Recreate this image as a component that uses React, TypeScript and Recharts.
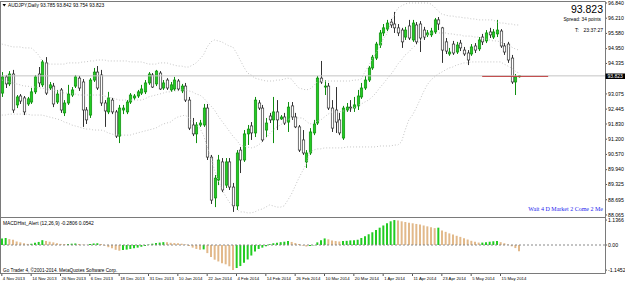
import React from "react";
import { ComposedChart, Bar, Line, XAxis, YAxis, ReferenceLine, Cell } from "recharts";

// AUDJPY daily, 4 Nov 2013 .. 20 May 2014
const openP = [
  93.11, 93.78, 93.49, 93.9, 92.62, 92.99, 92.91, 92.66, 92.74, 93.16,
  93.9, 93.45, 94.36, 93.32, 93.4, 92.74, 93.24, 92.29, 92.7, 93.03,
  93.4, 93.73, 93.57, 92.41, 92.2, 93.65, 93.98, 93.86, 92.7, 92.33,
  92.82, 92.33, 91.33, 92.41, 92.33, 92.74, 92.91, 92.99, 93.11, 93.16,
  93.53, 93.86, 93.49, 93.94, 93.32, 93.65, 93.24, 93.28, 93.61, 93.2,
  93.4, 92.82, 91.79, 91.42, 91.79, 91.79, 92.49, 90.46, 88.77, 89.51,
  90.26, 89.3, 90.26, 89.22, 88.44, 90.75, 90.34, 91.42, 91.75, 91.46,
  92.7, 92.49, 91.58, 92.16, 92.0, 92.33, 92.04, 92.12, 91.91, 92.58,
  92.12, 91.71, 91.17, 90.26, 90.63, 91.46, 91.87, 93.73, 93.36, 93.4,
  92.49, 92.41, 92.0, 91.25, 92.41, 92.53, 92.49, 92.58, 92.95, 93.32,
  93.65, 94.15, 94.56, 95.1, 95.6, 95.76, 96.05, 95.97, 95.81, 95.72,
  95.43, 95.89, 95.31, 95.93, 95.97, 95.72, 95.52, 95.52, 95.64, 96.14,
  95.81, 95.23, 94.73, 95.14, 94.81, 95.18, 94.89, 94.77, 94.73, 95.06,
  94.94, 95.43, 95.27, 95.64, 95.43, 95.56, 95.68, 95.06, 95.14, 94.56,
  93.57, 93.785,
];
const highP = [
  93.98, 93.86, 94.02, 94.07, 93.03, 93.07, 92.99, 92.95, 93.32, 93.86,
  94.19, 94.48, 94.6, 93.57, 93.53, 93.24, 93.32, 92.82, 93.45, 93.36,
  93.86, 93.82, 93.69, 92.53, 93.73, 94.15, 94.23, 94.07, 92.82, 93.16,
  92.91, 92.41, 92.62, 92.62, 92.82, 93.11, 93.07, 93.24, 93.45, 93.65,
  93.98, 93.94, 94.07, 94.02, 93.65, 93.73, 93.57, 93.78, 93.69, 93.49,
  93.53, 92.95, 92.08, 91.91, 92.0, 92.66, 92.66, 90.55, 89.72, 90.55,
  90.42, 90.42, 90.42, 89.39, 90.75, 90.88, 91.58, 91.79, 91.91, 92.95,
  92.82, 92.62, 92.08, 92.29, 92.95, 92.82, 92.2, 92.29, 92.74, 92.74,
  92.29, 91.79, 91.58, 90.75, 91.66, 92.0, 93.82, 94.44, 93.65, 93.53,
  92.82, 93.36, 92.29, 92.58, 92.7, 92.82, 92.95, 93.24, 93.53, 93.82,
  94.23, 94.69, 95.23, 95.72, 95.97, 96.14, 96.18, 96.47, 95.97, 95.81,
  95.85, 96.14, 96.14, 96.05, 96.09, 95.85, 95.72, 95.81, 96.22, 96.26,
  95.85, 95.39, 94.98, 95.27, 95.23, 95.31, 95.02, 94.89, 95.14, 95.18,
  95.43, 95.56, 95.72, 95.81, 95.76, 96.14, 95.76, 95.18, 95.23, 94.69,
  93.9, 93.842,
];
const lowP = [
  92.95, 93.32, 93.4, 92.29, 92.49, 92.66, 92.2, 92.58, 92.66, 93.07,
  93.36, 93.36, 93.03, 93.24, 92.53, 92.66, 92.29, 92.16, 92.62, 92.95,
  93.32, 93.2, 91.71, 91.83, 92.08, 93.57, 93.24, 92.58, 91.71, 92.24,
  92.24, 91.25, 91.04, 92.24, 92.24, 92.66, 92.82, 92.91, 93.03, 93.07,
  93.45, 93.32, 93.4, 93.24, 93.24, 93.24, 93.16, 93.2, 93.2, 93.11,
  92.74, 91.58, 91.33, 91.04, 91.71, 91.71, 90.34, 88.52, 88.39, 89.3,
  89.01, 89.18, 89.1, 88.19, 88.27, 89.8, 90.26, 90.96, 91.17, 91.29,
  92.41, 91.09, 91.29, 91.87, 91.04, 91.58, 92.0, 91.79, 91.5, 92.0,
  91.66, 90.67, 90.55, 90.01, 90.55, 91.37, 91.79, 93.49, 93.03, 92.41,
  91.5, 91.46, 91.37, 91.17, 92.33, 92.33, 92.33, 92.41, 92.87, 93.24,
  93.57, 94.07, 94.48, 94.98, 95.47, 95.68, 95.81, 95.6, 95.47, 94.98,
  95.31, 95.31, 95.23, 95.14, 94.81, 95.31, 95.43, 95.43, 95.56, 95.72,
  94.36, 94.73, 94.65, 94.69, 94.73, 94.85, 94.65, 94.27, 94.65, 94.77,
  94.85, 95.1, 95.18, 95.39, 95.35, 95.43, 94.98, 94.69, 94.36, 93.49,
  93.03, 93.754,
];
const closeP = [
  93.78, 93.49, 93.9, 92.41, 92.95, 92.78, 92.33, 92.87, 93.16, 93.78,
  93.53, 94.4, 93.11, 93.45, 92.66, 93.07, 92.41, 92.7, 93.07, 93.24,
  93.78, 93.32, 92.41, 92.0, 93.65, 93.98, 93.32, 92.7, 92.37, 92.91,
  92.33, 91.33, 92.49, 92.49, 92.74, 93.03, 92.99, 93.16, 93.28, 93.53,
  93.9, 93.36, 94.02, 93.28, 93.53, 93.32, 93.45, 93.65, 93.28, 93.4,
  92.82, 91.66, 91.42, 91.79, 91.87, 92.49, 90.46, 88.68, 89.59, 90.34,
  89.1, 90.26, 89.22, 88.44, 90.63, 90.34, 91.42, 91.62, 91.46, 92.82,
  92.49, 91.17, 91.87, 92.0, 92.33, 92.0, 92.12, 91.87, 92.53, 92.12,
  91.71, 90.75, 90.63, 90.63, 91.5, 91.83, 93.73, 93.57, 93.4, 92.49,
  91.66, 91.91, 91.46, 92.49, 92.53, 92.49, 92.62, 92.99, 93.32, 93.65,
  94.15, 94.6, 95.14, 95.6, 95.81, 96.01, 95.93, 95.81, 95.6, 95.23,
  95.72, 95.39, 96.01, 95.23, 95.39, 95.43, 95.6, 95.68, 96.14, 95.97,
  94.89, 94.85, 94.81, 94.77, 95.1, 94.98, 94.73, 94.48, 95.02, 94.89,
  95.31, 95.23, 95.6, 95.52, 95.64, 95.72, 95.06, 94.81, 94.48, 93.57,
  93.78, 93.823,
];

// Bollinger bands (20)
const upperBand = [
  95.14, 95.1, 95.06, 95.02, 95.02, 95.02, 94.98, 94.98, 94.98, 94.85,
  94.69, 94.44, 94.36, 94.31, 94.31, 94.31, 94.31, 94.31, 94.36, 94.36,
  94.36, 94.36, 94.4, 94.4, 94.44, 94.44, 94.48, 94.48, 94.48, 94.44,
  94.44, 94.44, 94.44, 94.44, 94.44, 94.4, 94.4, 94.4, 94.4, 94.36,
  94.31, 94.31, 94.31, 94.36, 94.36, 94.36, 94.31, 94.27, 94.23, 94.23,
  94.19, 94.19, 94.27, 94.36, 94.52, 94.69, 95.02, 95.23, 95.31, 95.27,
  95.23, 95.14, 95.06, 95.02, 94.77, 94.48, 94.19, 93.94, 93.86, 93.73,
  93.69, 93.65, 93.61, 93.61, 93.61, 93.65, 93.65, 93.69, 93.73, 93.69,
  93.49, 93.32, 93.28, 93.24, 93.28, 93.4, 93.57, 93.57, 93.61, 93.61,
  93.61, 93.61, 93.61, 93.61, 93.61, 93.61, 93.65, 93.65, 93.69, 93.98,
  94.23, 94.52, 94.77, 95.02, 95.35, 95.56, 95.97, 96.34, 96.63, 96.72,
  96.8, 96.84, 96.84, 96.84, 96.84, 96.84, 96.84, 96.8, 96.67, 96.51,
  96.38, 96.34, 96.3, 96.3, 96.26, 96.26, 96.22, 96.22, 96.18, 96.18,
  96.14, 96.14, 96.14, 96.14, 96.14, 96.05, 96.01, 96.01, 95.97, 95.97,
  95.93, 95.93,
];
const midBand = [
  93.65, 93.61, 93.57, 93.53, 93.49, 93.45, 93.4, 93.4, 93.36, 93.36,
  93.32, 93.32, 93.28, 93.24, 93.24, 93.2, 93.16, 93.11, 93.11, 93.07,
  93.07, 93.03, 93.03, 93.03, 93.03, 93.03, 93.03, 93.03, 92.99, 92.95,
  92.91, 92.87, 92.82, 92.82, 92.82, 92.82, 92.82, 92.82, 92.82, 92.87,
  92.95, 92.99, 93.03, 93.07, 93.11, 93.16, 93.16, 93.2, 93.2, 93.24,
  93.24, 93.2, 93.16, 93.07, 93.03, 92.91, 92.74, 92.58, 92.41, 92.16,
  91.95, 91.75, 91.54, 91.33, 91.17, 90.96, 90.92, 90.88, 90.84, 90.88,
  90.96, 91.09, 91.25, 91.42, 91.58, 91.71, 91.79, 91.91, 92.0, 92.08,
  92.08, 92.08, 92.08, 91.95, 91.83, 91.87, 91.95, 92.0, 92.12, 92.24,
  92.33, 92.33, 92.33, 92.37, 92.37, 92.41, 92.49, 92.58, 92.66, 92.74,
  92.82, 92.95, 93.11, 93.32, 93.49, 93.69, 93.86, 94.07, 94.31, 94.48,
  94.69, 94.81, 94.98, 95.1, 95.27, 95.39, 95.52, 95.6, 95.6, 95.6,
  95.6, 95.6, 95.56, 95.56, 95.52, 95.52, 95.47, 95.47, 95.47, 95.43,
  95.43, 95.39, 95.35, 95.31, 95.27, 95.27, 95.23, 95.14, 95.06, 95.02,
  94.94, 94.89,
];
const lowerBand = [
  92.2, 92.2, 92.24, 92.24, 92.24, 92.24, 92.24, 92.24, 92.2, 92.2,
  92.2, 92.2, 92.16, 92.12, 92.08, 92.04, 92.0, 91.91, 91.87, 91.79,
  91.75, 91.71, 91.66, 91.62, 91.62, 91.58, 91.58, 91.58, 91.54, 91.46,
  91.42, 91.37, 91.37, 91.37, 91.37, 91.37, 91.42, 91.46, 91.5, 91.54,
  91.58, 91.62, 91.66, 91.75, 91.83, 91.87, 91.91, 92.04, 92.12, 92.16,
  92.2, 92.08, 91.95, 91.79, 91.66, 91.37, 90.88, 90.46, 89.93, 89.51,
  89.14, 88.85, 88.6, 88.44, 88.31, 88.19, 88.19, 88.15, 88.15, 88.19,
  88.27, 88.31, 88.39, 88.48, 88.44, 88.39, 88.39, 88.44, 88.68, 88.93,
  89.26, 89.59, 89.88, 90.17, 90.67, 90.75, 90.8, 90.8, 90.84, 90.84,
  90.84, 90.84, 90.84, 90.84, 90.88, 90.88, 90.88, 90.88, 90.88, 90.88,
  90.88, 90.88, 90.88, 90.92, 90.92, 90.92, 90.92, 90.96, 90.96, 91.09,
  91.58, 92.0, 92.2, 92.49, 92.82, 93.16, 93.45, 93.65, 93.78, 93.9,
  93.98, 94.07, 94.15, 94.19, 94.27, 94.31, 94.36, 94.36, 94.4, 94.4,
  94.4, 94.4, 94.4, 94.4, 94.4, 94.4, 94.4, 94.31, 94.23, 94.15,
  94.02, 93.94,
];

// MACDHist_Alert (12,26,9)
const macdHist = [
  0.3, 0.32, 0.27, 0.24, 0.16, 0.12, 0.08, 0.05, 0.06, 0.1,
  0.14, 0.22, 0.18, 0.15, 0.12, 0.08, 0.05, 0.04, 0.05, 0.06,
  0.07, 0.05, 0.02, 0.01, 0.04, 0.07, 0.08, 0.04, -0.03, -0.1,
  -0.15, -0.22, -0.26, -0.23, -0.21, -0.18, -0.15, -0.12, -0.08, -0.04,
  0.02, 0.06, 0.09, 0.11, 0.13, 0.12, 0.1, 0.09, 0.08, 0.06,
  0.03, -0.05, -0.12, -0.18, -0.22, -0.2, -0.37, -0.55, -0.67, -0.75,
  -0.83, -0.88, -0.97, -1.1452, -1.05, -0.96, -0.81, -0.66, -0.48, -0.3,
  -0.18, -0.12, -0.06, 0.04, 0.08, 0.1, 0.13, 0.15, 0.18, 0.14,
  0.09, 0.04, -0.03, -0.07, -0.05, -0.02, 0.12, 0.22, 0.3, 0.26,
  0.21, 0.18, 0.16, 0.18, 0.19, 0.21, 0.22, 0.24, 0.32, 0.4,
  0.49, 0.58, 0.68, 0.79, 0.89, 0.99, 1.08, 1.1366, 1.12, 1.08,
  1.05, 1.02, 0.99, 0.96, 0.93, 0.89, 0.85, 0.81, 0.77, 0.79,
  0.66, 0.6, 0.53, 0.48, 0.42, 0.37, 0.31, 0.25, 0.19, 0.15,
  0.11, 0.11, 0.13, 0.15, 0.17, 0.18, 0.13, 0.08, 0.02, -0.06,
  -0.14, -0.28,
];

const dateLabels = [
  "4 Nov 2013", "14 Nov 2013", "26 Nov 2013", "6 Dec 2013", "18 Dec 2013",
  "31 Dec 2013", "10 Jan 2014", "22 Jan 2014", "4 Feb 2014", "14 Feb 2014",
  "26 Feb 2014", "10 Mar 2014", "20 Mar 2014", "1 Apr 2014", "11 Apr 2014",
  "23 Apr 2014", "5 May 2014", "15 May 2014",
];
const dateTickIdx = dateLabels.map((_, k) => k * 8);

// 93.705 sits under the current-price box, so it is left out
const priceTicks = [
  96.84, 96.21, 95.58, 94.95, 94.335, 93.075, 92.445, 91.83, 91.2,
  90.57, 89.94, 89.325, 88.695, 88.065,
];
const macdTicks = [1.1366, 0, -1.1452];
const macdTickText: Record<string, string> = { "1.1366": "1.1366", "0": "0.00", "-1.1452": "-1.1452" };

const lastPrice = 93.823;
const SLOTS = 165; // bars + right shift
const N = openP.length;

const GREEN = "#22cc22";
const TAN = "#e2b98a";

const rows = Array.from({ length: SLOTS }, (_, i) => {
  if (i >= N) return { i };
  return {
    i,
    range: [lowP[i], highP[i]],
    open: openP[i],
    high: highP[i],
    low: lowP[i],
    close: closeP[i],
    upper: upperBand[i],
    mid: midBand[i],
    lower: lowerBand[i],
    macd: macdHist[i],
    col: i === 0 || macdHist[i] >= macdHist[i - 1] ? GREEN : TAN,
  };
});

const FONT = "'Liberation Sans', Arial, sans-serif";

const Candle = (props: any) => {
  const { x, y, width, height, payload } = props;
  if (!payload || payload.open == null || !isFinite(y)) return null;
  const { open, close, high, low } = payload;
  const cx = Math.round(x + width / 2) + 0.5;
  const k = height / (high - low || 1);
  const yO = y + (high - open) * k;
  const yC = y + (high - close) * k;
  const up = close >= open;
  const top = Math.min(yO, yC);
  const h = Math.max(Math.abs(yC - yO), 0.8);
  const edge = up ? "#0e8e0e" : "#333";
  return (
    <g>
      <line x1={cx} x2={cx} y1={y} y2={y + height} stroke={edge} strokeWidth={1} />
      <rect x={cx - 1.2} y={top} width={2.4} height={h} fill={up ? GREEN : "#fff"} stroke={edge} strokeWidth={0.7} />
    </g>
  );
};

const PriceTick = (props: any) => {
  const { x, y, payload } = props;
  return (
    <g>
      <line x1={x} x2={x + 2} y1={y} y2={y} stroke="#555" />
      <text x={x + 3} y={y + 1.8} fontSize={5.2} fontFamily={FONT} fill="#000">
        {payload.value.toFixed(3)}
      </text>
    </g>
  );
};

const MacdTick = (props: any) => {
  const { x, y, payload } = props;
  return (
    <g>
      <line x1={x} x2={x + 2} y1={y} y2={y} stroke="#555" />
      <text x={x + 3} y={y + 1.8} fontSize={5.2} fontFamily={FONT} fill="#000">
        {macdTickText[String(payload.value)]}
      </text>
    </g>
  );
};

const DateTick = (props: any) => {
  const { x, y, payload } = props;
  const label = dateLabels[dateTickIdx.indexOf(payload.value)];
  return (
    <g>
      <line x1={x} x2={x} y1={y} y2={y + 2} stroke="#555" />
      <text x={x + 1} y={y + 6.3} fontSize={4.3} fontFamily={FONT} fill="#000">
        {label}
      </text>
    </g>
  );
};

export default function App() {
  return (
    <div
      style={{
        position: "relative",
        width: 625,
        height: 282,
        background: "#fff",
        overflow: "hidden",
        fontFamily: FONT,
      }}
    >
      <style>{"body{margin:0}"}</style>
      <div style={{ position: "absolute", left: 0, top: 0 }}>
        <ComposedChart width={625} height={218} data={rows} margin={{ top: 2, right: 0, bottom: 1, left: 0 }}>
          <XAxis dataKey="i" hide />
          <YAxis
            orientation="right"
            width={20}
            domain={[87.98, 96.881]}
            allowDataOverflow
            ticks={priceTicks}
            interval={0}
            axisLine={false}
            tickLine={false}
            tickSize={0}
            tickMargin={0}
            tick={<PriceTick />}
          />
          <ReferenceLine y={lastPrice} stroke="#c4c4c4" />
          <Line dataKey="upper" stroke="#c4c4c4" strokeDasharray="1 2" dot={false} activeDot={false} isAnimationActive={false} />
          <Line dataKey="mid" stroke="#c4c4c4" strokeDasharray="1 2" dot={false} activeDot={false} isAnimationActive={false} />
          <Line dataKey="lower" stroke="#c4c4c4" strokeDasharray="1 2" dot={false} activeDot={false} isAnimationActive={false} />
          <Bar dataKey="range" shape={Candle} isAnimationActive={false} />
          <ReferenceLine
            segment={[
              { x: 131, y: 93.8 },
              { x: 149, y: 93.8 },
            ]}
            stroke="#c04040"
          />
        </ComposedChart>
      </div>
      <div style={{ position: "absolute", left: 0, top: 217 }}>
        <ComposedChart width={625} height={65} data={rows} margin={{ top: 1, right: 0, bottom: 0, left: 0 }}>
          <XAxis
            dataKey="i"
            height={8}
            ticks={dateTickIdx}
            interval={0}
            axisLine={false}
            tickLine={false}
            tickSize={0}
            tickMargin={0}
            tick={<DateTick />}
          />
          <YAxis
            orientation="right"
            width={20}
            domain={[-1.322, 1.231]}
            allowDataOverflow
            ticks={macdTicks}
            interval={0}
            axisLine={false}
            tickLine={false}
            tickSize={0}
            tickMargin={0}
            tick={<MacdTick />}
          />
          <ReferenceLine y={0} stroke="#888" strokeDasharray="2 2" />
          <Bar dataKey="macd" barSize={2} isAnimationActive={false}>
            {rows.map((r: any, k) => (
              <Cell key={k} fill={r.col || "none"} />
            ))}
          </Bar>
        </ComposedChart>
      </div>
      <svg width={625} height={282} style={{ position: "absolute", left: 0, top: 0, pointerEvents: "none" }}>
        <g stroke="#7a7a7a" strokeWidth={1} fill="none">
          <line x1={0} y1={1.5} x2={605.5} y2={1.5} />
          <line x1={0.5} y1={1.5} x2={0.5} y2={273.5} />
          <line x1={605.5} y1={1.5} x2={605.5} y2={273.5} />
          <line x1={0} y1={217.5} x2={605.5} y2={217.5} />
          <line x1={0} y1={273.5} x2={605.5} y2={273.5} />
        </g>
        <polygon points="2.5,4 6,4 4.25,6.5" fill="#000" />
        <text x={8} y={7} fontSize={4.9} fontFamily={FONT} fill="#000">
          AUDJPY,Daily  93.785 93.842 93.754 93.823
        </text>
        <text x={603} y={12.5} fontSize={10.5} fontFamily={FONT} fill="#000" textAnchor="end">
          93.823
        </text>
        <text x={601} y={20.5} fontSize={4.8} fontFamily={FONT} fill="#000" textAnchor="end">
          Spread: 34 points
        </text>
        <text x={575} y={32} fontSize={5} fontFamily={FONT} fill="#000">
          T:
        </text>
        <text x={603} y={32} fontSize={5} fontFamily={FONT} fill="#000" textAnchor="end">
          23:37:27
        </text>
        <rect x={605.5} y={73.5} width={19.5} height={5.5} fill="#000" />
        <text x={607.5} y={77.9} fontSize={5} fontFamily={FONT} fill="#fff">
          93.823
        </text>
        <text x={603} y={210.5} fontSize={6} fontFamily="'Liberation Serif', 'Times New Roman', serif" fill="#2424ee" textAnchor="end">
          Wait 4 D Market 2 Come 2 Me
        </text>
        <text x={3} y={224.5} fontSize={4.9} fontFamily={FONT} fill="#000">
          MACDHist_Alert (12,26,9) -0.2806 0.0542
        </text>
        <text x={3} y={272} fontSize={4.7} fontFamily={FONT} fill="#000">
          Go Trader 4, ©2001-2014. MetaQuotes Software Corp.
        </text>
      </svg>
    </div>
  );
}
